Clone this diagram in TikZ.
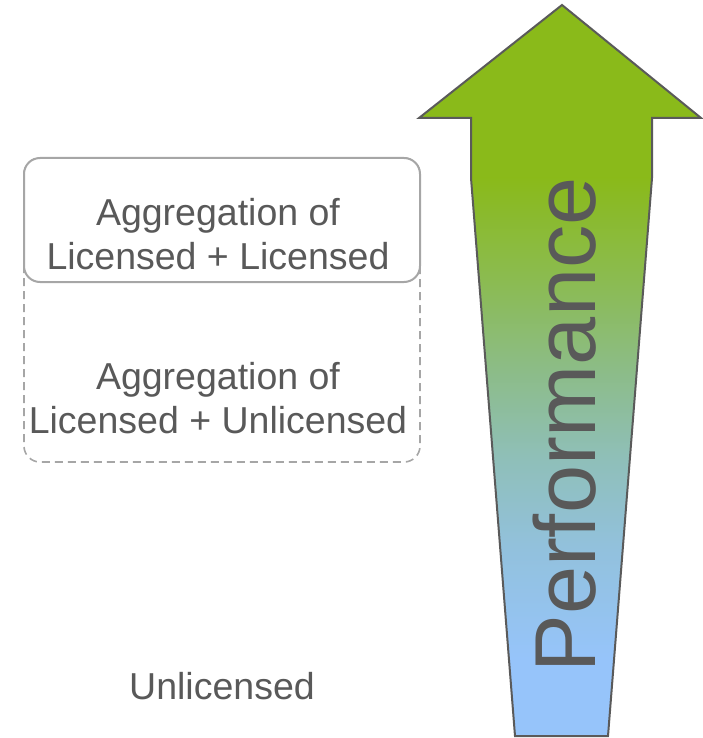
\documentclass[tikz,border=0pt]{standalone}
\usepackage{fontspec}
\setmainfont{Liberation Sans}
\usetikzlibrary{positioning}
\definecolor{perfgreen}{HTML}{8ABA1A}
\definecolor{perflime}{HTML}{8BBB50}
\definecolor{perfsage}{HTML}{8CBC86}
\definecolor{perfteal}{HTML}{8FBFB8}
\definecolor{perfsky}{HTML}{92C1DC}
\definecolor{perfblue}{HTML}{96C4FA}
\definecolor{textgray}{HTML}{595959}
\definecolor{linegray}{HTML}{A6A6A6}
\definecolor{arrowgray}{HTML}{5A5A5A}

% green at the top of the shaft, blue at the bottom
\pgfdeclareverticalshading{perfshade}{100bp}{
  color(0bp)=(perfblue); color(25bp)=(perfblue); color(32bp)=(perfblue);
  color(42bp)=(perfsky); color(50bp)=(perfteal); color(58bp)=(perfsage);
  color(66bp)=(perflime); color(75bp)=(perfgreen); color(100bp)=(perfgreen)}

\begin{document}
\begin{tikzpicture}[
  x=1pt, y=-1pt,
  every node/.style={text=textgray, inner sep=0pt},
  boxtext/.style={font=\fontsize{37.5}{44}\selectfont, align=center},
  solidbox/.style={draw=linegray, line width=2pt, rounded corners=16pt, fill=white},
  dashbox/.style={draw=linegray, line width=1.6pt, rounded corners=16pt, dash pattern=on 8pt off 5pt},
  arrowline/.style={draw=arrowgray, line width=2pt, line join=miter}
]
\useasboundingbox (0,0) rectangle (702,738);

% Performance arrow
\fill[perfgreen] (562,5) -- (701,118) -- (652,118) -- (652,179) -- (471,179) -- (471,118) -- (419,118) -- cycle;
\shade[shading=perfshade] (471,178) -- (652,178) -- (608,736) -- (515,736) -- cycle;
\draw[arrowline] (562,5) -- (701,118) -- (652,118) -- (652,178) -- (608,736) -- (515,736) -- (471,178) -- (471,118) -- (419,118) -- cycle;

% Boxes
\draw[dashbox] (24,158) rectangle (420,462);
\draw[solidbox] (24,158) rectangle (420,282);

% Labels
\node[boxtext] (licensed) at (218,234) {Aggregation of\\Licensed + Licensed};
\node[boxtext] (mixed) at (218,398) {Aggregation of\\Licensed + Unlicensed};
\node[font=\fontsize{37.5}{44}\selectfont, anchor=base] (unlicensed) at (222,699) {Unlicensed};
\node[font=\fontsize{86.5}{100}\selectfont, rotate=90, anchor=base] (perf) at (595,425) {Performance};

\end{tikzpicture}
\end{document}
